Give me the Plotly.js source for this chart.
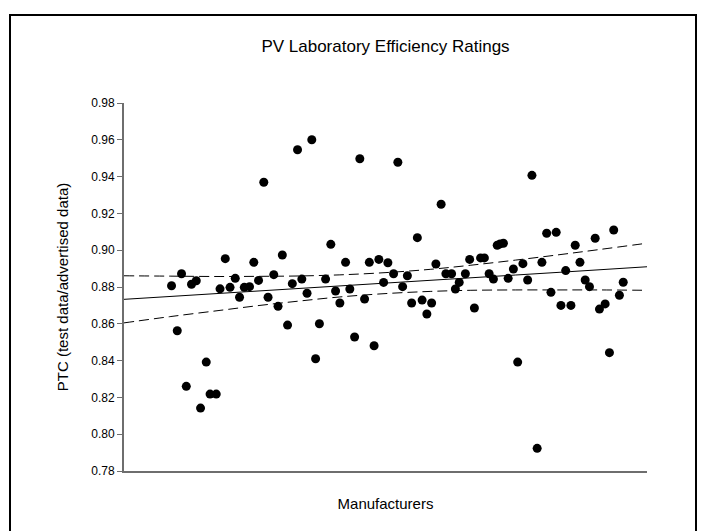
<!DOCTYPE html>
<html>
<head>
<meta charset="utf-8">
<script src="https://cdn.plot.ly/plotly-3.0.1.min.js"></script>
<style>
  html, body { margin: 0; padding: 0; background: #fff; }
  #wrap { position: relative; width: 704px; height: 531px; overflow: hidden; }
  #chart { position: absolute; left: 0; top: 0; width: 704px; height: 531px; }
  #frame { position: absolute; left: 9px; top: 14px; width: 684px; height: 540px; border: 2px solid #000; pointer-events: none; }
</style>
</head>
<body>
<div id="wrap"><div id="chart"></div><div id="frame"></div></div>
<script>
// Manufacturer index (position along x) and PTC ratio
const manufacturer = [10.0, 11.2, 12.1, 13.1, 14.2, 15.2, 16.1, 17.3, 18.1, 19.4,
  20.2, 21.3, 22.3, 23.4, 24.3, 25.3, 26.4, 27.3, 28.3, 29.4,
  30.3, 31.5, 32.4, 33.3, 34.4, 35.4, 36.5, 37.4, 38.5, 39.5,
  40.3, 41.1, 42.4, 43.5, 44.5, 45.4, 46.6, 47.5, 48.5, 49.6,
  50.6, 51.6, 52.6, 53.6, 54.6, 55.5, 56.7, 57.6, 58.6, 59.6,
  60.5, 61.7, 62.7, 63.7, 64.7, 65.6, 66.7, 67.7, 68.9, 69.7,
  70.5, 71.8, 72.7, 73.7, 75.0, 75.8, 76.8, 77.7, 78.5, 79.1,
  79.8, 80.8, 81.9, 82.8, 83.9, 84.9, 85.8, 86.9, 87.9, 88.9,
  89.8, 90.9, 91.9, 92.9, 94.0, 94.9, 95.9, 97.0, 97.9, 99.1,
  100.0, 101.2, 102.1, 103.0, 104.2, 105.0];
const ptc = [0.8807, 0.8562, 0.8872, 0.8260, 0.8815, 0.8834, 0.8142, 0.8392, 0.8218, 0.8218,
  0.8790, 0.8954, 0.8798, 0.8847, 0.8744, 0.8798, 0.8802, 0.8934, 0.8836, 0.9369,
  0.8744, 0.8867, 0.8695, 0.8974, 0.8593, 0.8818, 0.9546, 0.8843, 0.8766, 0.9600,
  0.8410, 0.8600, 0.8843, 0.9032, 0.8778, 0.8713, 0.8934, 0.8789, 0.8528, 0.9497,
  0.8735, 0.8934, 0.8481, 0.8950, 0.8825, 0.8932, 0.8872, 0.9478, 0.8802, 0.8861,
  0.8713, 0.9068, 0.8729, 0.8653, 0.8713, 0.8925, 0.9250, 0.8872, 0.8872, 0.8789,
  0.8825, 0.8872, 0.8950, 0.8686, 0.8958, 0.8958, 0.8872, 0.8843, 0.9027, 0.9034,
  0.9038, 0.8847, 0.8898, 0.8392, 0.8927, 0.8838, 0.9407, 0.7923, 0.8934, 0.9092,
  0.8771, 0.9097, 0.8700, 0.8889, 0.8700, 0.9027, 0.8934, 0.8838, 0.8802, 0.9065,
  0.8680, 0.8708, 0.8443, 0.9110, 0.8755, 0.8826];

// Regression line and confidence band
const bandX = [0, 9.7, 20.2, 28.6, 37.0, 45.4, 54.9, 64.4, 72.8, 82.3, 91.7, 100.1, 110];
const fitY = [0.8733, 0.8749, 0.8765, 0.8779, 0.8792, 0.8806, 0.8821, 0.8836, 0.8850, 0.8865, 0.8880, 0.8894, 0.8910];
const upperY = [0.8861, 0.8859, 0.8857, 0.8858, 0.8860, 0.8866, 0.8878, 0.8896, 0.8918, 0.8946, 0.8976, 0.9004, 0.9038];
const lowerY = [0.8605, 0.8639, 0.8673, 0.8700, 0.8724, 0.8746, 0.8764, 0.8776, 0.8782, 0.8784, 0.8784, 0.8784, 0.8782];

const yTicks = [0.78, 0.80, 0.82, 0.84, 0.86, 0.88, 0.90, 0.92, 0.94, 0.96, 0.98];
const yTickText = ['0.78', '0.80', '0.82', '0.84', '0.86', '0.88', '0.90', '0.92', '0.94', '0.96', '0.98'];

const font = 'Arial, "Liberation Sans", sans-serif';

const traces = [
  { x: bandX, y: upperY, type: 'scatter', mode: 'lines', line: { color: '#000', width: 1, dash: '10px,5px', shape: 'spline' }, hoverinfo: 'skip' },
  { x: bandX, y: lowerY, type: 'scatter', mode: 'lines', line: { color: '#000', width: 1, dash: '10px,5px', shape: 'spline' }, hoverinfo: 'skip' },
  { x: bandX, y: fitY, type: 'scatter', mode: 'lines', line: { color: '#000', width: 1 }, hoverinfo: 'skip' },
  { x: manufacturer, y: ptc, type: 'scatter', mode: 'markers', marker: { color: '#000', size: 9 } }
];

const layout = {
  width: 704, height: 531,
  margin: { l: 124, r: 57, t: 103, b: 60 },
  paper_bgcolor: '#fff', plot_bgcolor: '#fff',
  showlegend: false,
  font: { family: font, color: '#000' },
  title: { text: 'PV Laboratory Efficiency Ratings', font: { family: font, size: 17, color: '#000' },
           xref: 'paper', x: 0.5, xanchor: 'center', yref: 'container', y: 1 - 46 / 531, yanchor: 'middle' },
  xaxis: {
    range: [0, 110], showgrid: false, zeroline: false, showticklabels: false, ticks: '',
    showline: true, linecolor: '#6e6e6e', linewidth: 2,
    title: { text: 'Manufacturers', font: { family: font, size: 15, color: '#000' }, standoff: 26 }
  },
  yaxis: {
    range: [0.78, 0.98], showgrid: false, zeroline: false,
    tickvals: yTicks, ticktext: yTickText, ticks: 'outside', ticklen: 5, tickcolor: '#6e6e6e', tickwidth: 1,
    tickfont: { family: font, size: 12, color: '#000' },
    showline: true, linecolor: '#6e6e6e', linewidth: 2,
    title: { text: 'PTC (test data/advertised data)', font: { family: font, size: 15, color: '#000' }, standoff: 19 }
  }
};

Plotly.newPlot('chart', traces, layout, { displayModeBar: false, staticPlot: true });
</script>
</body>
</html>
